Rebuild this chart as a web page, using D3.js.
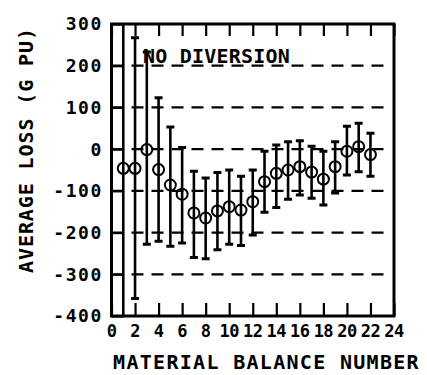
<!DOCTYPE html>
<html><head><meta charset="utf-8">
<script src="https://cdn.jsdelivr.net/npm/d3@7"></script>
<style>
html,body{margin:0;padding:0;background:#fff;}
svg{display:block;}
text{font-family:"DejaVu Sans Mono",monospace;font-weight:bold;fill:#000;}
</style></head>
<body>
<script>
const balanceNumbers = [1,2,3,4,5,6,7,8,9,10,11,12,13,14,15,16,17,18,19,20,21,22];
const avgLoss = [-46,-46,-1,-49,-86,-108,-153,-165,-148,-138,-146,-126,-78,-58,-50,-42,-55,-72,-42,-5,6,-13];
const upper   = [380,267,233,123,53,4,-53,-69,-56,-50,-65,-50,-5,10,18,20,7,-5,18,55,62,38];
const lower   = [-470,-358,-228,-221,-233,-225,-260,-263,-241,-228,-231,-206,-151,-140,-120,-110,-118,-134,-105,-62,-54,-65];
const xTicks = [0,2,4,6,8,10,12,14,16,18,20,22,24];
const yTicks = [300,200,100,0,-100,-200,-300,-400];
const gridValues = [200,100,0,-100,-200,-300];
const annotation = "NO DIVERSION";
const xTitle = "MATERIAL BALANCE NUMBER";
const yTitle = "AVERAGE LOSS (G PU)";

const W = 427, H = 375;
const L = 111.5, R = 394, T = 24, B = 316;
const svg = d3.select("body").append("svg").attr("width", W).attr("height", H);
const x = d3.scaleLinear().domain([0,24]).range([L,R]);
const y = d3.scaleLinear().domain([-400,300]).range([B,T]);

svg.append("defs").append("clipPath").attr("id","clip")
  .append("rect").attr("x",L).attr("y",T).attr("width",R-L).attr("height",B-T);

// dashed gridlines
svg.append("g").selectAll("line").data(gridValues).join("line")
  .attr("x1", L).attr("x2", 388)
  .attr("y1", d=>y(d)).attr("y2", d=>y(d))
  .attr("stroke","#000").attr("stroke-width",2.2)
  .attr("stroke-dasharray","12,8");

// left axis (inward ticks)
const yAxis = d3.axisRight(y).tickValues(yTicks).tickSize(12).tickFormat("");
svg.append("g").attr("transform",`translate(${L},0)`).call(yAxis)
  .call(g=>g.select(".domain").remove())
  .call(g=>g.selectAll("line").attr("stroke-width",2.2));
// y labels
svg.append("g").selectAll("text").data(yTicks).join("text")
  .attr("x", 103).attr("y", d=>y(d)).attr("dy","0.36em")
  .attr("text-anchor","end").attr("font-size",18).attr("letter-spacing","1.6")
  .text(d=>d);

// bottom and top ticks
const xAxisB = d3.axisTop(x).tickValues(xTicks).tickSize(13).tickFormat("");
svg.append("g").attr("transform",`translate(0,${B})`).call(xAxisB)
  .call(g=>g.select(".domain").remove())
  .call(g=>g.selectAll("line").attr("stroke-width",2.2));
const xAxisT = d3.axisBottom(x).tickValues(xTicks).tickSize(12).tickFormat("");
svg.append("g").attr("transform",`translate(0,${T})`).call(xAxisT)
  .call(g=>g.select(".domain").remove())
  .call(g=>g.selectAll("line").attr("stroke-width",2.2));
// x labels
svg.append("g").selectAll("text").data(xTicks).join("text")
  .attr("x", d=>x(d)).attr("y", 331).attr("dy","0.36em")
  .attr("text-anchor","middle").attr("font-size",17).attr("letter-spacing","-0.5")
  .text(d=>d);

// frame
svg.append("rect").attr("x",L).attr("y",T).attr("width",R-L).attr("height",B-T)
  .attr("fill","none").attr("stroke","#000").attr("stroke-width",3);

// annotation
svg.append("text").attr("x",143).attr("y",63).attr("font-size",20)
  .attr("letter-spacing","0.2").text(annotation);

// error bars
const eb = svg.append("g").attr("clip-path","url(#clip)");
const pts = balanceNumbers.map((n,i)=>({n, v:avgLoss[i], hi:upper[i], lo:lower[i]}));
eb.selectAll("line.bar").data(pts).join("line").attr("class","bar")
  .attr("x1",d=>x(d.n)).attr("x2",d=>x(d.n))
  .attr("y1",d=>y(d.hi)).attr("y2",d=>y(d.lo))
  .attr("stroke","#000").attr("stroke-width",2.6);
eb.selectAll("line.capt").data(pts).join("line").attr("class","capt")
  .attr("x1",d=>x(d.n)-4).attr("x2",d=>x(d.n)+4)
  .attr("y1",d=>y(d.hi)).attr("y2",d=>y(d.hi))
  .attr("stroke","#000").attr("stroke-width",3);
eb.selectAll("line.capb").data(pts).join("line").attr("class","capb")
  .attr("x1",d=>x(d.n)-4).attr("x2",d=>x(d.n)+4)
  .attr("y1",d=>y(d.lo)).attr("y2",d=>y(d.lo))
  .attr("stroke","#000").attr("stroke-width",3);
eb.selectAll("circle").data(pts).join("circle")
  .attr("cx",d=>x(d.n)).attr("cy",d=>y(d.v)).attr("r",5.5)
  .attr("fill","none").attr("stroke","#000").attr("stroke-width",2);

// axis titles
svg.append("text").attr("x",266.5).attr("y",362).attr("dy","0.36em")
  .attr("text-anchor","middle").attr("font-size",20).attr("letter-spacing","1.3")
  .text(xTitle);
svg.append("text").attr("transform","translate(26,150) rotate(-90)")
  .attr("dy","0.36em").attr("text-anchor","middle").attr("font-size",20)
  .attr("letter-spacing","0.9").text(yTitle);
</script>
</body></html>
